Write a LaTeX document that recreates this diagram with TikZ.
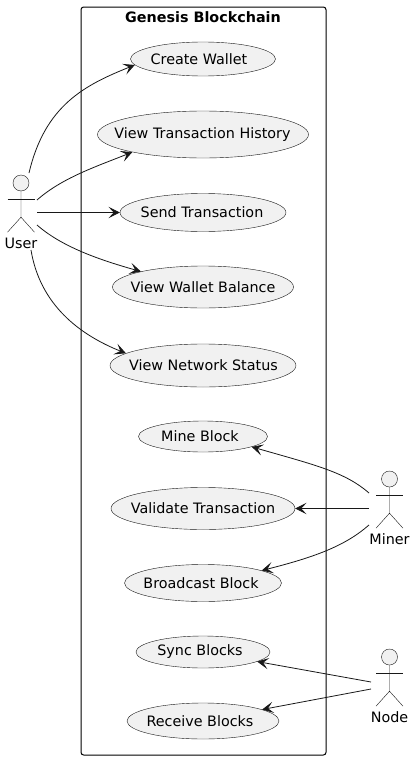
\documentclass[tikz,border=0pt]{standalone}
\usepackage{fontspec}
\setmainfont{DejaVu Sans}
\usepackage{xcolor}
\usetikzlibrary{arrows.meta,shapes.geometric}
\definecolor{ink}{HTML}{181818}
\definecolor{ucfill}{HTML}{F1F1F1}
\newlength{\ucstep}
\setlength{\ucstep}{1.5pt}
\tikzset{
  usecase/.style 2 args={draw=ink,fill=ucfill,line width=0.3pt,ellipse,inner sep=0pt,
    minimum width=#1*0.75pt,minimum height=#2*0.75pt,font=\fontsize{10.75}{12}\selectfont},
  actorhead/.style={draw=ink,fill=ucfill,line width=0.3pt,circle,inner sep=0pt,minimum size=12pt},
  actorname/.style={inner sep=0pt,font=\fontsize{10.75}{12}\selectfont},
  stick/.style={draw=ink,line width=0.3pt},
  assoc/.style={draw=ink,line width=0.6pt,-{Stealth[length=8.5pt,width=8.5pt,inset=4pt]}},
}
% text of a use case, moved by #1 px from the middle of the ellipse
\newcommand{\uctext}[2]{\makebox[0pt]{\hspace*{#1\ucstep}#2}}
% stick figure: name, head x, head y, label
\newcommand{\actorfig}[4]{
\node[actorhead] (#1) at (#2,#3) {};
\path[stick] (#1.south) -- ++(0,26) ++(-13.5,15) -- ++(13.5,-15) -- ++(13.5,15);
\path[stick] ([shift={(-13.5,16)}]#1.center) -- ++(27,0);
\node[actorname] (#1name) at (#2,#3+60) {#4};
}
\begin{document}
\begin{tikzpicture}[x=0.75pt,y=-0.75pt]
\useasboundingbox (0,0) rectangle (415,760);
% system box
\node[draw=black,line width=0.75pt,rounded corners=2pt,minimum width=183.75pt,minimum height=561pt,inner sep=0pt] (Chain) at (203.5,381) {};
\node[inner sep=0pt,font=\fontsize{10.75}{12}\selectfont\bfseries] (ChainTitle) at (203,17) {Genesis Blockchain};
% use cases
\node[usecase={145}{34}] (CW) at (203,59) {\uctext{-4}{Create Wallet}};
\node[usecase={211}{47}] (VTH) at (203,134.5) {\uctext{-0.5}{View Transaction History}};
\node[usecase={166}{38}] (ST) at (203,212.5) {\uctext{-1}{Send Transaction}};
\node[usecase={181}{42}] (VWB) at (203,287) {\uctext{0}{View Wallet Balance}};
\node[usecase={186}{43}] (VNS) at (203,365.5) {\uctext{0.5}{View Network Status}};
\node[usecase={129}{31}] (MB) at (203,436.5) {\uctext{-3}{Mine Block}};
\node[usecase={184}{42}] (VT) at (203,508.5) {\uctext{0}{Validate Transaction}};
\node[usecase={157}{37}] (BB) at (203,583) {\uctext{-2}{Broadcast Block}};
\node[usecase={134}{32}] (SB) at (203,652) {\uctext{-3}{Sync Blocks}};
\node[usecase={152}{36}] (RB) at (203,721) {\uctext{-3}{Receive Blocks}};
% actors
\actorfig{User}{21}{183}{User}
\actorfig{Miner}{389.5}{479}{Miner}
\actorfig{Nd}{389.5}{657}{Node}
% free ends next to the actors
\coordinate (u1) at (29,173);
\coordinate (u2) at (37,200);
\coordinate (u3) at (37,212.5);
\coordinate (u4) at (37,225);
\coordinate (u5) at (31,250);
\coordinate (m1) at (369,493);
\coordinate (m2) at (369,508.5);
\coordinate (m3) at (369,525);
\coordinate (n1) at (371,682);
\coordinate (n2) at (371,689);
% connectors
\path[assoc] (u1) .. controls (45,105) and (85,85) .. (CW.185);
\path[assoc] (u2) .. controls (62,178) and (95,167) .. (VTH.194);
\path[assoc] (u3) -- (ST.west);
\path[assoc] (u4) .. controls (62,247) and (100,260) .. (VWB.166);
\path[assoc] (u5) .. controls (40,305) and (80,335) .. (VNS.171);
\path[assoc] (m1) .. controls (345,472) and (315,465) .. (MB.-12);
\path[assoc] (m2) -- (VT.east);
\path[assoc] (m3) .. controls (345,546) and (315,557) .. (BB.12);
\path[assoc] (n1) -- (SB.-10);
\path[assoc] (n2) -- (RB.11.6);
\end{tikzpicture}
\end{document}
